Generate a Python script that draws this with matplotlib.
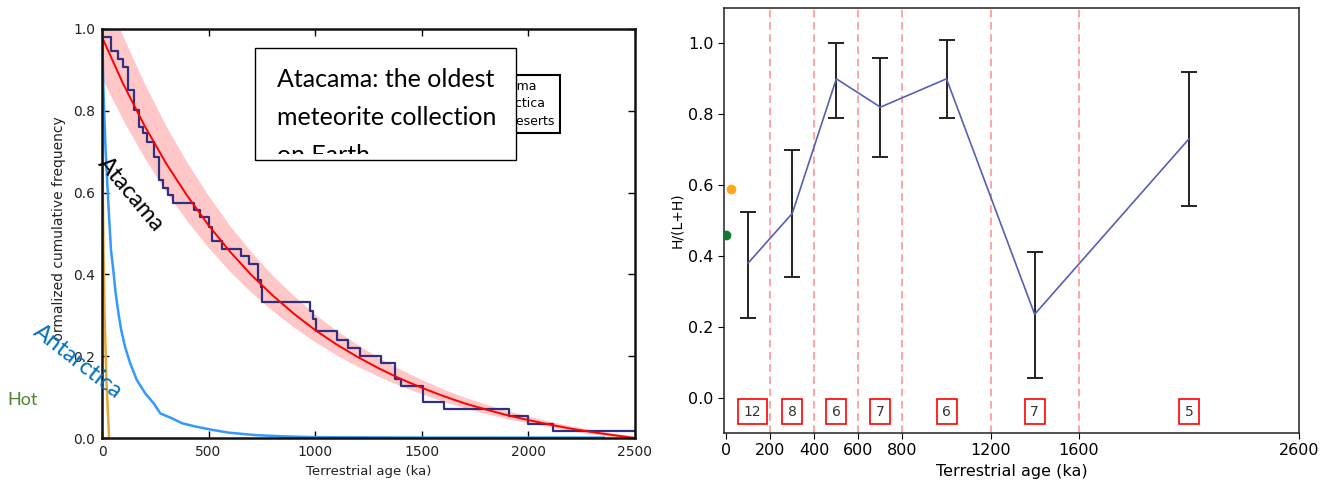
import numpy as np
import matplotlib
matplotlib.use("Agg")
import matplotlib.pyplot as plt
from matplotlib.patches import Rectangle
from matplotlib.transforms import Bbox, TransformedBbox


# ---- left panel data ----
fit_age = [0, 100, 200, 300, 400, 500, 600, 700, 800, 900, 1000, 1100, 1200,
           1300, 1400, 1500, 1600, 1700, 1800, 1900, 2000, 2100, 2200, 2300, 2400, 2500]
fit_mid = [0.98, 0.865, 0.763, 0.672, 0.592, 0.520, 0.456, 0.399, 0.349, 0.304, 0.264,
           0.229, 0.198, 0.170, 0.145, 0.123, 0.103, 0.085, 0.070, 0.056, 0.044,
           0.033, 0.023, 0.0145, 0.007, 0.0]
fit_up = [1.11, 0.98, 0.866, 0.763, 0.673, 0.592, 0.519, 0.455, 0.398, 0.348, 0.302,
          0.263, 0.228, 0.196, 0.168, 0.143, 0.120, 0.100, 0.083, 0.067, 0.054,
          0.041, 0.030, 0.020, 0.012, 0.005]
fit_low = [0.879, 0.776, 0.684, 0.602, 0.530, 0.465, 0.407, 0.356, 0.311, 0.271, 0.235,
           0.203, 0.175, 0.150, 0.128, 0.108, 0.090, 0.074, 0.060, 0.047, 0.037,
           0.027, 0.018, 0.010, 0.003, -0.003]

# Atacama empirical distribution (age where each step starts, level after it)
atacama_age = [0, 44, 77, 100, 123, 149, 172, 192, 212, 242, 267, 287, 311, 331,
               434, 460, 500, 515, 562, 650, 690, 730, 745, 753, 975, 990, 1003,
               1103, 1153, 1212, 1308, 1374, 1404, 1505, 1605, 1908, 1997, 2118, 2500]
atacama_frac = [0.981, 0.946, 0.927, 0.907, 0.852, 0.801, 0.761, 0.745, 0.724, 0.688,
                0.631, 0.611, 0.594, 0.574, 0.558, 0.540, 0.517, 0.482, 0.463, 0.446,
                0.426, 0.386, 0.370, 0.333, 0.310, 0.292, 0.262, 0.240, 0.219, 0.201,
                0.183, 0.144, 0.126, 0.088, 0.072, 0.053, 0.034, 0.016, 0.016]

antarctica_age = [0, 3, 6, 12, 17, 25, 32, 42, 53, 64, 77, 90, 108, 132, 163, 203,
                  242, 274, 329, 376, 439, 517, 596, 722, 850, 1000, 1500, 2355]
antarctica_frac = [1.0, 0.95, 0.86, 0.77, 0.70, 0.62, 0.55, 0.46, 0.41, 0.354, 0.305,
                   0.264, 0.223, 0.183, 0.142, 0.109, 0.085, 0.060, 0.048, 0.036,
                   0.028, 0.020, 0.013, 0.007, 0.004, 0.002, 0.001, 0.001]

hot_age = [0, 2, 4, 7, 12, 20, 33]
hot_frac = [1.0, 0.8, 0.6, 0.45, 0.3, 0.15, 0.0]

# ---- right panel data ----
bin_age = [100, 300, 500, 700, 1000, 1400, 2100]
h_frac = [0.38, 0.52, 0.90, 0.82, 0.90, 0.235, 0.73]
h_low = [0.225, 0.34, 0.79, 0.68, 0.79, 0.055, 0.54]
h_high = [0.525, 0.70, 1.00, 0.96, 1.01, 0.41, 0.92]
bin_edges = [200, 400, 600, 800, 1200, 1600]
counts = ["12", "8", "6", "7", "6", "7", "5"]
count_x = [120, 300, 500, 700, 1000, 1400, 2100]
right_xticks = [0, 200, 400, 600, 800, 1200, 1600, 2600]


fig = plt.figure(figsize=(13.25, 4.87), dpi=100)
fig.patch.set_facecolor("white")

# ================= left panel =================
ax = fig.add_axes([0.077, 0.1006, 0.402, 0.8399])
ax.fill_between(fit_age, fit_low, fit_up, color="red", alpha=0.22, lw=0)
ax.step(atacama_age, atacama_frac, where="post", color="#2e3080", lw=1.6, label="Atacama")
ax.plot(antarctica_age, antarctica_frac, color="#3399ff", lw=1.8, label="Antarctica")
ax.plot(hot_age, hot_frac, color="#e8a634", lw=1.8, label="Hot deserts")
ax.plot(fit_age, fit_mid, color="red", lw=1.4)

ax.set_xlim(0, 2500)
ax.set_ylim(0, 1.0)
ax.set_xticks([0, 500, 1000, 1500, 2000, 2500])
ax.set_yticks([0.0, 0.2, 0.4, 0.6, 0.8, 1.0])
ax.tick_params(direction="in", top=True, right=True, length=5, width=1,
               labelsize=10, labelcolor="#222222", pad=5)
for s in ax.spines.values():
    s.set_linewidth(1.8)
    s.set_color("#111111")
ax.set_xlabel("Terrestrial age (ka)", fontsize=9.5, color="#222222")
ax.set_ylabel("Normalized cumulative frequency", fontsize=10, color="#222222")
ax.yaxis.set_label_coords(-0.068, 0.5)
# the first letter of the y label is cut off in the original
lab = ax.yaxis.label
lab.set_clip_on(True)
lab.set_clip_box(TransformedBbox(Bbox([[0, 1 - 341 / 487], [0.2, 1]]), fig.transFigure))

leg = ax.legend(loc="upper right", bbox_to_anchor=(0.859, 0.888), borderaxespad=0,
                fontsize=9, fancybox=False, framealpha=1, handlelength=2.5,
                labelspacing=0.35)
leg.get_frame().set_edgecolor("black")
leg.get_frame().set_linewidth(1.5)

# white callout box drawn over the figure
box = Rectangle((255 / 1325, 1 - 160 / 487), 261 / 1325, 112 / 487,
                transform=fig.transFigure, facecolor="white", edgecolor="black",
                lw=1, zorder=10)
fig.add_artist(box)
clip = Rectangle((255 / 1325, 1 - 154 / 487), 261 / 1325, 106 / 487,
                 transform=fig.transFigure, visible=False)
fig.add_artist(clip)
for i, line in enumerate(["Atacama: the oldest", "meteorite collection", "on Earth"]):
    t = fig.text(277 / 1325, 1 - (87 + 38 * i) / 487, line, fontsize=18,
                 family="Lato", va="baseline", ha="left", zorder=11)
    t.set_clip_path(clip)

fig.text(131 / 1325, 1 - 194 / 487, "Atacama", fontsize=17, family="Lato",
         rotation=-50, ha="center", va="center", rotation_mode="anchor", color="black")
fig.text(78 / 1325, 1 - 362 / 487, "Antarctica", fontsize=17, family="Lato",
         rotation=-38, ha="center", va="center", rotation_mode="anchor", color="#0070c0")
fig.text(23 / 1325, 1 - 400 / 487, "Hot", fontsize=13, family="Lato",
         ha="center", va="center", color="#548235")

# ================= right panel =================
ax2 = fig.add_axes([0.5464, 0.111, 0.434, 0.8726])
for b in bin_edges:
    ax2.axvline(b, color="#ff7070", ls="--", lw=1.1, alpha=0.8, dashes=(5, 3))

h_frac = np.array(h_frac)
yerr = [h_frac - np.array(h_low), np.array(h_high) - h_frac]
ax2.errorbar(bin_age, h_frac, yerr=yerr, fmt="none", ecolor="#222222",
             elinewidth=1.4, capsize=6, capthick=1.4, zorder=3)
ax2.plot(bin_age, h_frac, color="#5560b0", lw=1.2, zorder=4)
ax2.plot([0], [0.46], "o", color="#107a30", ms=6, zorder=5)
ax2.plot([20], [0.59], "o", color="#ffa520", ms=6, zorder=5)

for xc, c in zip(count_x, counts):
    ax2.text(xc, -0.04, c, ha="center", va="center", fontsize=10, color="#333333",
             bbox=dict(boxstyle="square,pad=0.4", facecolor="white", edgecolor="red", lw=1.2))

ax2.set_xlim(-10, 2600)
ax2.set_ylim(-0.1, 1.1)
ax2.set_xticks(right_xticks)
ax2.set_yticks([0.0, 0.2, 0.4, 0.6, 0.8, 1.0])
ax2.tick_params(labelsize=11.5, length=4)
for s in ax2.spines.values():
    s.set_linewidth(1.1)
    s.set_color("#222222")
ax2.set_xlabel("Terrestrial age (ka)", fontsize=11.5)
ax2.set_ylabel("H/(L+H)", fontsize=10)
ax2.yaxis.set_label_coords(-0.07, 0.5)

plt.savefig("out.png", dpi=100)
plt.close()
